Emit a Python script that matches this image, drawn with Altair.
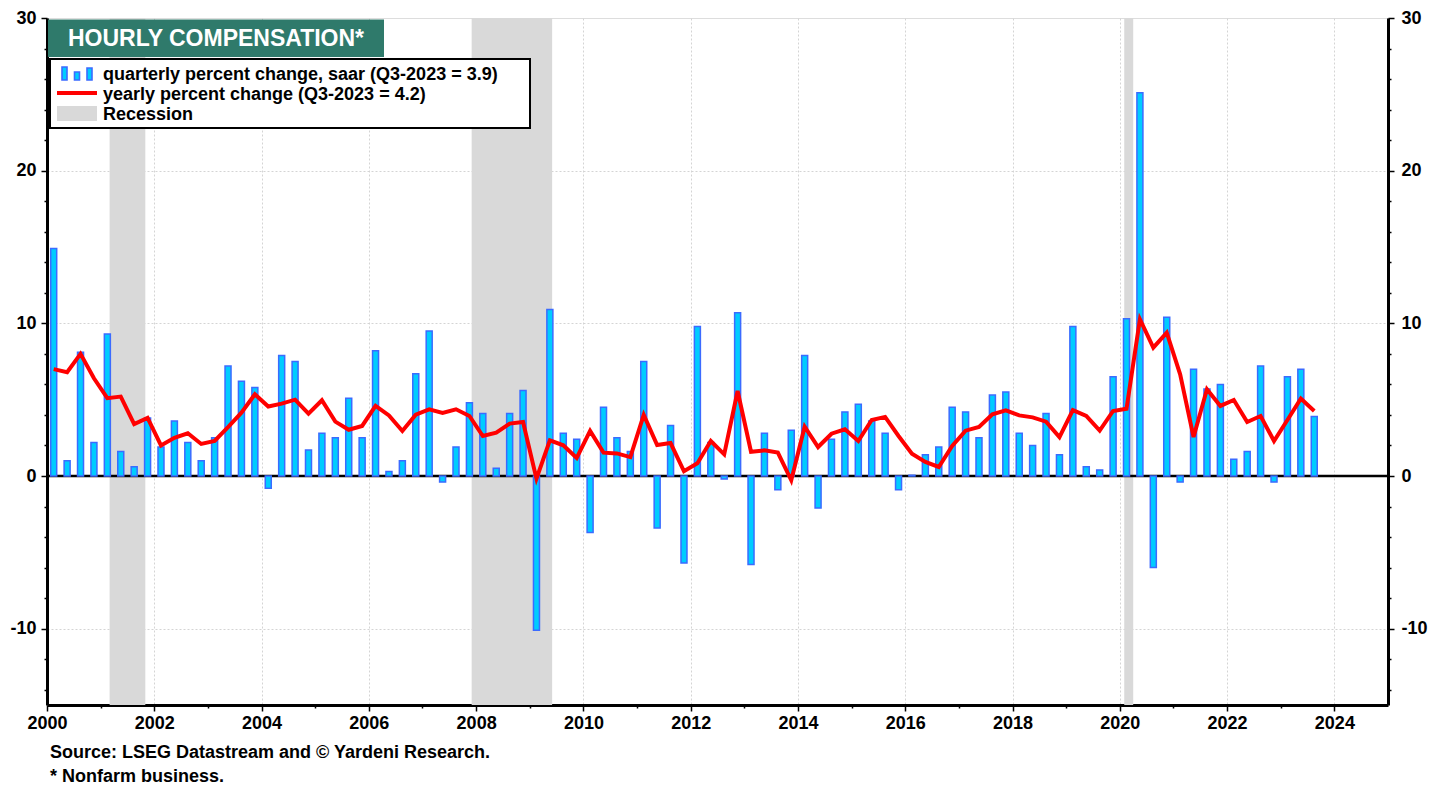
import altair as alt
import pandas as pd

FONT = "Liberation Sans"

# Quarterly percent change, saar (2000Q1 .. 2023Q3)
quarterly = [
    14.9, 1.0, 8.1, 2.2,
    9.3, 1.6, 0.6, 3.8,
    1.9, 3.6, 2.2, 1.0,
    2.5, 7.2, 6.2, 5.8,
    -0.8, 7.9, 7.5, 1.7,
    2.8, 2.5, 5.1, 2.5,
    8.2, 0.3, 1.0, 6.7,
    9.5, -0.4, 1.9, 4.8,
    4.1, 0.5, 4.1, 5.6,
    -10.1, 10.9, 2.8, 2.4,
    -3.7, 4.5, 2.5, 1.6,
    7.5, -3.4, 3.3, -5.7,
    9.8, 2.2, -0.2, 10.7,
    -5.8, 2.8, -0.9, 3.0,
    7.9, -2.1, 2.4, 4.2,
    4.7, 3.6, 2.8, -0.9,
    0.05, 1.4, 1.9, 4.5,
    4.2, 2.5, 5.3, 5.5,
    2.8, 2.0, 4.1, 1.4,
    9.8, 0.6, 0.4, 6.5,
    10.3, 25.1, -6.0, 10.4,
    -0.4, 7.0, 5.7, 6.0,
    1.1, 1.6, 7.2, -0.4,
    6.5, 7.0, 3.9,
]

# Yearly percent change (2000Q1 .. 2023Q3)
yearly = [
    7.0, 6.8, 8.0, 6.4,
    5.1, 5.2, 3.4, 3.8,
    2.0, 2.5, 2.8, 2.1,
    2.3, 3.2, 4.15, 5.35,
    4.55, 4.74, 5.0, 4.08,
    4.96, 3.56, 3.03, 3.28,
    4.59, 3.97, 2.95, 4.02,
    4.37, 4.13, 4.37, 3.93,
    2.62, 2.84, 3.43, 3.54,
    -0.17, 2.34, 2.01, 1.18,
    2.95, 1.53, 1.48, 1.24,
    4.0, 2.03, 2.16, 0.31,
    0.83, 2.29, 1.42, 5.57,
    1.59, 1.68, 1.53, -0.28,
    3.23, 1.90, 2.77, 3.06,
    2.29, 3.67, 3.87, 2.62,
    1.46, 0.92, 0.59, 1.97,
    2.97, 3.21, 4.04, 4.30,
    3.97, 3.84, 3.56, 2.55,
    4.32, 3.93, 2.97, 4.26,
    4.41, 10.27, 8.41, 9.39,
    6.66, 2.55, 5.68, 4.59,
    4.98, 3.54, 3.93, 2.29,
    3.67, 5.07, 4.26,
]

# Recessions (decimal years)
rec_start = [2001.167, 2007.917, 2020.083]
rec_end = [2001.833, 2009.417, 2020.25]

# Quarter midpoints as x positions
period = [2000 + i // 4 + (i % 4) * 0.25 + 0.125 for i in range(len(quarterly))]

df = pd.DataFrame({"t": period, "q": quarterly, "yr": yearly})
rec = pd.DataFrame({"s": rec_start, "e": rec_end})
one = pd.DataFrame({"a": [0]})

W, H = 1341, 687
FS = 18

xs = alt.Scale(domain=[2000, 2025], nice=False, zero=False, padding=0)
ys = alt.Scale(domain=[-15, 30], nice=False, zero=False, padding=0)

label_common = dict(labelFont=FONT, labelFontSize=FS, labelFontWeight="bold",
                    labelColor="black", title=None, labelOverlap=False)

xaxis = alt.Axis(
    values=[2000 + k * 0.25 for k in range(100)],
    format="d",
    labelExpr="datum.value % 2 == 0 ? datum.label : ''",
    labelFlush=False,
    labelPadding=3,
    tickSize={"condition": {"test": "datum.value % 2 == 0", "value": 6}, "value": 3},
    tickColor="black", tickWidth=1.5,
    domainColor="black", domainWidth=3,
    grid=True, gridDash=[2, 2], gridColor="#d4d4d4", gridWidth=1,
    gridOpacity={"condition": {"test": "datum.value % 2 == 0 && datum.value > 2000", "value": 1}, "value": 0},
    **label_common,
)

yvals = list(range(-14, 31, 2))
ytick = {"condition": {"test": "datum.value % 10 == 0", "value": 6}, "value": 3}
ylab = "datum.value % 10 == 0 ? '' + datum.value : ''"

yaxis_left = alt.Axis(
    orient="left", values=yvals,
    labelExpr=ylab,
    labelPadding=5, tickSize=ytick, tickColor="black", tickWidth=1.5,
    domainColor="black", domainWidth=3,
    grid=True, gridDash=[2, 2], gridColor="#d4d4d4", gridWidth=1,
    gridOpacity={"condition": {"test": "datum.value % 10 == 0 && datum.value != 0 && datum.value != 30", "value": 1}, "value": 0},
    **label_common,
)
yaxis_right = alt.Axis(
    orient="right", values=yvals,
    labelExpr=ylab,
    labelPadding=7, tickSize=ytick, tickColor="black", tickWidth=1.5,
    domainColor="black", domainWidth=3, grid=False,
    **label_common,
)

recess = alt.Chart(rec).mark_rect(color="#d9d9d9").encode(
    x=alt.X("s:Q", scale=xs, axis=xaxis), x2="e:Q",
    y=alt.value(0), y2=alt.value(H),
)

zero = alt.Chart(one).mark_rule(color="black", strokeWidth=2.5).encode(
    y=alt.Y("a:Q", scale=ys, axis=yaxis_left)
)

bars = alt.Chart(df).mark_bar(size=6, fill="#00CCFF", stroke="#3B6BFF", strokeWidth=1.5).encode(
    x=alt.X("t:Q", scale=xs, axis=xaxis),
    y=alt.Y("q:Q", scale=ys, axis=yaxis_left),
)

line = alt.Chart(df).mark_line(color="#FF0000", strokeWidth=4).encode(
    x=alt.X("t:Q", scale=xs, axis=xaxis),
    y=alt.Y("yr:Q", scale=ys, axis=yaxis_left),
)

# Title box
title_box = alt.Chart(one).mark_rect(fill="#2F7A6B").encode(
    x=alt.value(1), x2=alt.value(337), y=alt.value(1.5), y2=alt.value(39)
)
title_txt = alt.Chart(one).mark_text(
    text="HOURLY COMPENSATION*", font=FONT, fontSize=23, fontWeight="bold",
    color="white", align="left", baseline="middle"
).encode(x=alt.value(21), y=alt.value(21))

# Legend box
leg_box = alt.Chart(one).mark_rect(fill="white", stroke="black", strokeWidth=2).encode(
    x=alt.value(3), x2=alt.value(483), y=alt.value(41), y2=alt.value(110)
)

def icon_bar(x0, x1, y0, y1):
    return alt.Chart(one).mark_rect(fill="#00CCFF", stroke="#3B6BFF", strokeWidth=1.6).encode(
        x=alt.value(x0), x2=alt.value(x1), y=alt.value(y0), y2=alt.value(y1)
    )

ib1 = icon_bar(15, 20, 49, 62)
ib2 = icon_bar(27.5, 32.5, 54, 62)
ib3 = icon_bar(40, 45, 50, 62)

leg_line = alt.Chart(one).mark_rule(color="#FF0000", strokeWidth=4).encode(
    x=alt.value(10), x2=alt.value(50), y=alt.value(75)
)
leg_rec = alt.Chart(one).mark_rect(fill="#d9d9d9").encode(
    x=alt.value(10), x2=alt.value(50), y=alt.value(88), y2=alt.value(103)
)

def leg_text(txt, y):
    return alt.Chart(one).mark_text(
        text=txt, font=FONT, fontSize=FS, fontWeight="bold", color="black",
        align="left", baseline="middle"
    ).encode(x=alt.value(56), y=alt.value(y))

lt1 = leg_text("quarterly percent change, saar (Q3-2023 = 3.9)", 56.5)
lt2 = leg_text("yearly percent change (Q3-2023 = 4.2)", 76.5)
lt3 = leg_text("Recession", 96.5)

def foot_text(txt, y):
    return alt.Chart(one).mark_text(
        text=txt, font=FONT, fontSize=FS, fontWeight="bold", color="black",
        align="left", baseline="middle"
    ).encode(x=alt.value(3), y=alt.value(y))

f1 = foot_text("Source: LSEG Datastream and © Yardeni Research.", 735)
f2 = foot_text("* Nonfarm business.", 759)

main = alt.layer(recess, zero, bars, line,
                 title_box, title_txt, leg_box, ib1, ib2, ib3,
                 leg_line, leg_rec, lt1, lt2, lt3, f1, f2)

right = alt.Chart(df).mark_rule(opacity=0).encode(
    y=alt.Y("q:Q", scale=ys, axis=yaxis_right)
)

chart = alt.layer(main, right).resolve_scale(y="independent").properties(
    width=W, height=H,
    autosize=alt.AutoSizeParams(type="none"),
    padding={"left": 39, "top": 10, "right": 50, "bottom": 82},
).configure_view(stroke="black", strokeWidth=3).configure(background="white")

chart.save("out.html", embed_options={"renderer": "svg", "actions": False})
